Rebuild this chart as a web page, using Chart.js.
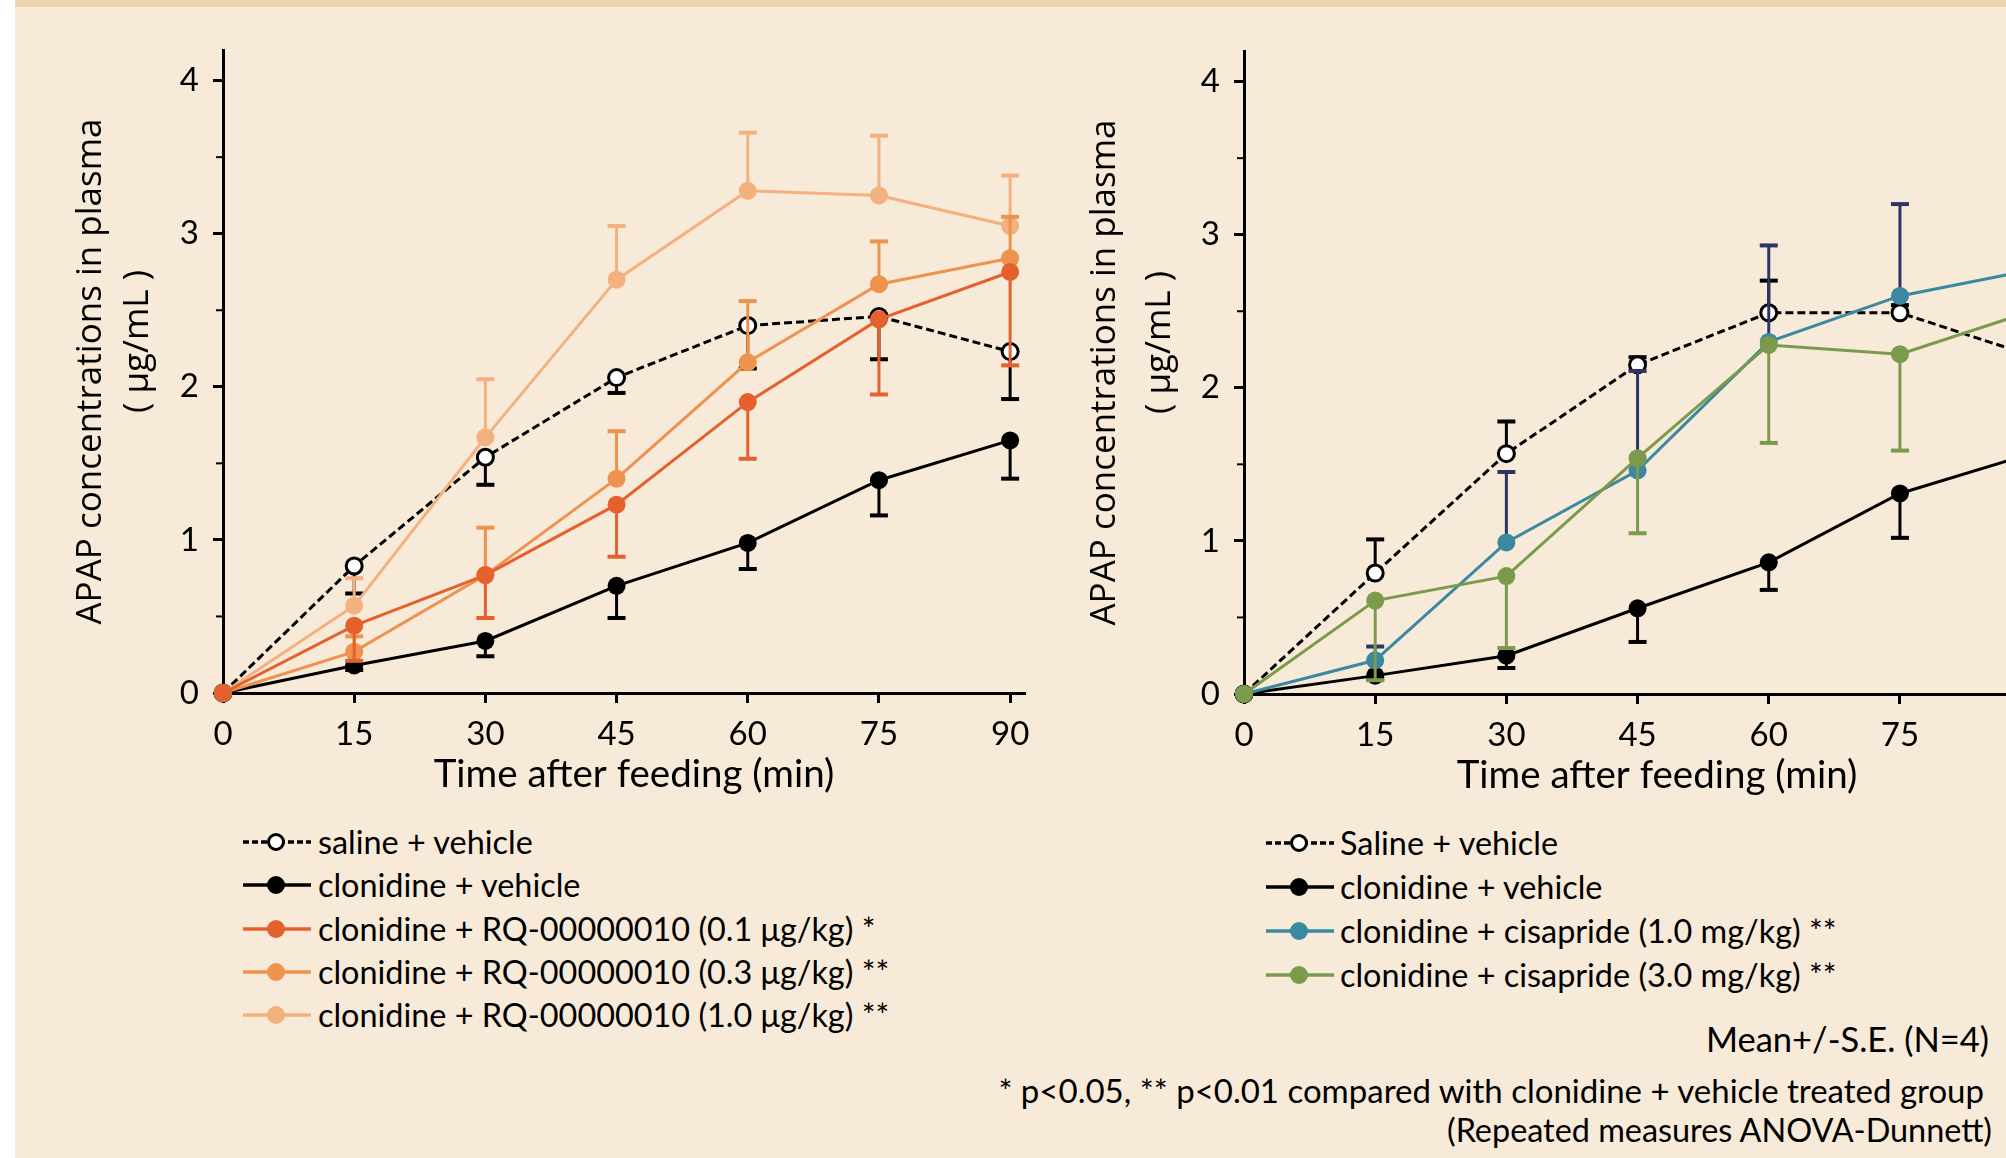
<!DOCTYPE html>
<html>
<head>
<meta charset="utf-8">
<script src="https://cdn.jsdelivr.net/npm/chart.js@4.4.1/dist/chart.umd.min.js"></script>
<style>
  html, body { margin: 0; padding: 0; width: 2006px; height: 1158px; overflow: hidden; background: #f7ead8; }
  #strip { position: absolute; left: 0; top: 0; width: 15px; height: 1158px; background: #fff; }
  #band { position: absolute; left: 15px; top: 0; width: 1991px; height: 7px; background: #edd4ae; }
  canvas { position: absolute; }
  #cl { left: 0; top: 0; }
  #cr { left: 1040px; top: 1px; }
  .item { position: absolute; height: 40px; white-space: nowrap; font-family: Lato, "Liberation Sans", sans-serif; font-size: 32.4px; color: #000; }
  .item svg { position: absolute; left: 0; top: 8px; }
  .item span { position: absolute; top: 0; line-height: 40px; }
  .note { position: absolute; white-space: nowrap; font-family: Lato, "Liberation Sans", sans-serif; line-height: 40px; text-align: right; }
</style>
</head>
<body>
<div id="strip"></div>
<div id="band"></div>
<canvas id="cl" width="1060" height="800"></canvas>
<canvas id="cr" width="1060" height="800"></canvas>
<div id="legends"></div>
<div class="note" style="right:17px; top:1019px; font-size:34.5px;">Mean+/-S.E. (N=4)</div>
<div class="note" style="right:22px; top:1070px; font-size:33px;">* p&lt;0.05, ** p&lt;0.01 compared with clonidine + vehicle treated group</div>
<div class="note" style="right:14px; top:1110px; font-size:32.4px;">(Repeated measures ANOVA-Dunnett)</div>
<script>
const minutes = [0, 15, 30, 45, 60, 75, 90];
const xTicks = [0, 15, 30, 45, 60, 75, 90];
const yTicks = [0, 1, 2, 3, 4];
const yMinor = [0.5, 1.5, 2.5, 3.5];

// left panel (RQ-00000010)
const salineL = [0, 0.83, 1.54, 2.06, 2.40, 2.46, 2.23];
const salineLSe = [0, 0.18, 0.18, 0.10, 0.28, 0.28, 0.31];
const cloniL = [0, 0.18, 0.34, 0.70, 0.98, 1.39, 1.65];
const cloniLSe = [0, 0.03, 0.10, 0.21, 0.17, 0.23, 0.25];
const rq01 = [0, 0.44, 0.77, 1.23, 1.90, 2.44, 2.75];
const rq01Se = [0, 0.23, 0.28, 0.34, 0.37, 0.49, 0.61];
const rq03 = [0, 0.27, 0.77, 1.40, 2.16, 2.67, 2.84];
const rq03Se = [0, 0.10, 0.31, 0.31, 0.40, 0.28, 0.27];
const rq10 = [0, 0.57, 1.67, 2.70, 3.28, 3.25, 3.05];
const rq10Se = [0, 0.18, 0.38, 0.35, 0.38, 0.39, 0.33];

// right panel (cisapride)
const salineR = [0, 0.79, 1.57, 2.15, 2.49, 2.49, 2.21];
const salineRSe = [0, 0.22, 0.21, 0.05, 0.21, 0.05, 0.20];
const cloniR = [0, 0.12, 0.25, 0.56, 0.86, 1.31, 1.57];
const cloniRSe = [0, 0.02, 0.08, 0.22, 0.18, 0.29, 0.25];
const cis10 = [0, 0.22, 0.99, 1.46, 2.30, 2.60, 2.77];
const cis10Se = [0, 0.09, 0.46, 0.65, 0.63, 0.60, 0.30];
const cis30 = [0, 0.61, 0.77, 1.54, 2.28, 2.22, 2.50];
const cis30Se = [0, 0.52, 0.47, 0.49, 0.64, 0.63, 0.40];

const leftLabels = ['saline + vehicle', 'clonidine + vehicle', 'clonidine + RQ-00000010 (0.1 μg/kg) *',
  'clonidine + RQ-00000010 (0.3 μg/kg) **', 'clonidine + RQ-00000010 (1.0 μg/kg) **'];
const rightLabels = ['Saline + vehicle', 'clonidine + vehicle', 'clonidine + cisapride (1.0 mg/kg) **',
  'clonidine + cisapride (3.0 mg/kg) **'];

const xTitle = 'Time after feeding (min)';
const yTitle = ['APAP concentrations in plasma', '( μg/mL )'];

const cBlack = '#000000', cRq01 = '#e4612e', cRq03 = '#ee924f', cRq10 = '#f3b17f';
const cTeal = '#3b89a0', cNavy = '#2e3466', cGreen = '#7b9a4b';

function pts(vals) {
  return minutes.map((m, i) => ({ x: m, y: vals[i] }));
}

function line(label, vals, se, dir, color, errColor, order, open) {
  return {
    label: label,
    data: pts(vals),
    se: se, dir: dir, errColor: errColor,
    borderColor: color,
    borderWidth: 3,
    borderDash: open ? [8, 4] : [],
    pointRadius: open ? 8 : 9,
    pointBackgroundColor: open ? '#ffffff' : color,
    pointBorderColor: open ? '#000000' : color,
    pointBorderWidth: open ? 3 : 0,
    tension: 0,
    clip: false,
    order: order
  };
}

const errorBars = {
  id: 'errorBars',
  beforeDatasetDraw(chart, args) {
    const ds = chart.data.datasets[args.index];
    if (!ds.se) return;
    const x = chart.scales.x, y = chart.scales.y, ctx = chart.ctx;
    ctx.save();
    ctx.strokeStyle = ds.errColor;
    ctx.setLineDash([]);
    ds.data.forEach((p, i) => {
      const s = ds.se[i];
      if (!s) return;
      const px = x.getPixelForValue(p.x);
      const py = y.getPixelForValue(p.y);
      const pe = y.getPixelForValue(p.y + ds.dir * s);
      ctx.lineWidth = 3;
      ctx.beginPath(); ctx.moveTo(px, py); ctx.lineTo(px, pe); ctx.stroke();
      ctx.lineWidth = 4;
      ctx.beginPath(); ctx.moveTo(px - 9, pe); ctx.lineTo(px + 9, pe); ctx.stroke();
    });
    ctx.restore();
  }
};

const axisDecor = {
  id: 'axisDecor',
  afterDraw(chart, args, o) {
    const ctx = chart.ctx, a = chart.chartArea, y = chart.scales.y;
    ctx.save();
    ctx.strokeStyle = '#000';
    ctx.lineWidth = 2;
    yMinor.forEach(v => {
      const py = y.getPixelForValue(v);
      ctx.beginPath(); ctx.moveTo(a.left - 7, py); ctx.lineTo(a.left, py); ctx.stroke();
    });
    ctx.fillStyle = '#000';
    ctx.textAlign = 'center';
    ctx.textBaseline = 'middle';
    ctx.font = '38.5px Lato, "Liberation Sans", sans-serif';
    ctx.fillText(xTitle, a.left + o.xDx, a.bottom + 82);
    const cy = (a.top + a.bottom) / 2;
    ctx.font = '35px "Open Sans", "Noto Sans", sans-serif';
    ctx.save();
    ctx.translate(a.left - o.y1Dx, cy);
    ctx.rotate(-Math.PI / 2);
    ctx.fillText(yTitle[0], 0, 0);
    ctx.restore();
    ctx.translate(a.left - o.y2Dx, cy - 30);
    ctx.rotate(-Math.PI / 2);
    ctx.fillText(yTitle[1], 0, 0);
    ctx.restore();
  }
};

const tickFont = { family: 'Lato, "Liberation Sans", sans-serif', size: 33 };

function makeChart(id, datasets, yWidth, padRight, deco) {
  return new Chart(document.getElementById(id), {
    type: 'line',
    data: { datasets: datasets },
    options: {
      responsive: false,
      animation: false,
      layout: { padding: { left: 0, top: 50, right: padRight, bottom: 0 } },
      plugins: { legend: { display: false }, tooltip: { enabled: false }, axisDecor: deco },
      scales: {
        x: {
          type: 'linear', min: 0, max: 91.7,
          afterBuildTicks: s => { s.ticks = xTicks.map(v => ({ value: v })); },
          afterFit: s => { s.height = 107; },
          ticks: { font: tickFont, color: '#000', padding: 12, maxRotation: 0, autoSkip: false },
          grid: { drawOnChartArea: false, drawTicks: true, tickLength: 10, tickWidth: 3, tickColor: '#000' },
          border: { color: '#000', width: 3 }
        },
        y: {
          type: 'linear', min: 0, max: 4.2,
          afterBuildTicks: s => { s.ticks = yTicks.map(v => ({ value: v })); },
          afterFit: s => { s.width = yWidth; },
          ticks: { font: tickFont, color: '#000', padding: 14 },
          grid: { drawOnChartArea: false, drawTicks: true, tickLength: 10, tickWidth: 3, tickColor: '#000' },
          border: { color: '#000', width: 3 }
        }
      }
    },
    plugins: [errorBars, axisDecor]
  });
}

makeChart('cl', [
  line(leftLabels[0], salineL, salineLSe, -1, cBlack, cBlack, 5, true),
  line(leftLabels[1], cloniL, cloniLSe, -1, cBlack, cBlack, 4, false),
  line(leftLabels[2], rq01, rq01Se, -1, cRq01, cRq01, 1, false),
  line(leftLabels[3], rq03, rq03Se, 1, cRq03, cRq03, 2, false),
  line(leftLabels[4], rq10, rq10Se, 1, cRq10, cRq10, 3, false)
], 223, 35, { xDx: 411, y1Dx: 132, y2Dx: 85 });

makeChart('cr', [
  line(rightLabels[0], salineR, salineRSe, 1, cBlack, cBlack, 4, true),
  line(rightLabels[1], cloniR, cloniRSe, -1, cBlack, cBlack, 3, false),
  line(rightLabels[2], cis10, cis10Se, 1, cTeal, cNavy, 2, false),
  line(rightLabels[3], cis30, cis30Se, -1, cGreen, cGreen, 1, false)
], 204, 54, { xDx: 413, y1Dx: 139, y2Dx: 84 });

// legends
function legend(labels, colors, left, top, step, textDx) {
  const box = document.getElementById('legends');
  labels.forEach((lab, i) => {
    const d = document.createElement('div');
    d.className = 'item';
    d.style.left = left + 'px';
    d.style.top = (top + i * step - 20) + 'px';
    const open = i === 0;
    const c = colors[i];
    d.innerHTML = '<svg width="68" height="24">' +
      '<line x1="0" y1="12" x2="68" y2="12" stroke="' + c + '" stroke-width="3.5"' +
      (open ? ' stroke-dasharray="6 3"' : '') + '/>' +
      (open ? '<circle cx="33" cy="12" r="7.5" fill="#fff" stroke="#000" stroke-width="3"/>'
            : '<circle cx="33" cy="12" r="9" fill="' + c + '"/>') +
      '</svg><span style="left:' + textDx + 'px">' + lab + '</span>';
    box.appendChild(d);
  });
}
legend(leftLabels, [cBlack, cBlack, cRq01, cRq03, cRq10], 243, 842, 43.3, 75);
legend(rightLabels, [cBlack, cBlack, cTeal, cGreen], 1266, 843, 44, 74);
</script>
</body>
</html>
